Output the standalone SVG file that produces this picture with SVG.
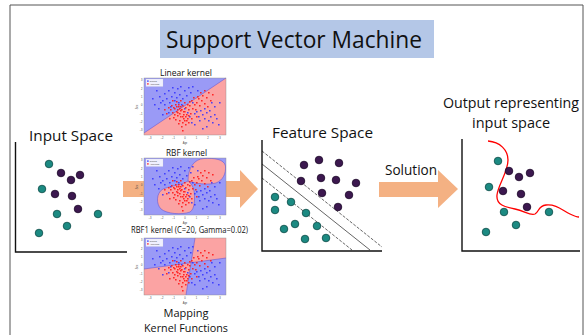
<svg xmlns="http://www.w3.org/2000/svg" xmlns:xlink="http://www.w3.org/1999/xlink" width="587" height="335" viewBox="0 0 587 335">
  <style>
    .lbl { font-family: "Open Sans", "Liberation Sans", sans-serif; fill: #111; }
    .big { font-size: 15px; }
    .small { font-size: 8.5px; }
    .axis { stroke: #111; stroke-width: 1.4; fill: none; }
    .sep { stroke: #222; stroke-width: 0.7; fill: none; }
    .dash { stroke-dasharray: 3 1.5; }
    .teal { fill: #1c8a82; stroke: #0c4a46; stroke-width: 0.8; }
    .purple { fill: #3c184f; stroke: #1c0828; stroke-width: 0.8; }
    .arrow { fill: #f4b183; }
    .rb { fill: #9a9af6; }
    .rr { fill: #fba3a3; }
    .bnd { stroke: #5a4ad0; stroke-width: 0.5; fill: none; }
    .frame { fill: none; stroke: #888; stroke-width: 0.4; }
    .tick { font-family: "Liberation Sans", sans-serif; font-size: 2.6px; fill: #444; }
  </style>
  <defs>
    <!-- shared sample data for the three kernel plots (local 82x57 coordinates) -->
    <path id="pts-blue" fill="#3030ff" fill-opacity="0.85" d="M12,12h1.6v1.6h-1.6z M15,18h1.6v1.6h-1.6z M18,22h1.6v1.6h-1.6z M20,15h1.6v1.6h-1.6z M22,20h1.6v1.6h-1.6z M24,12h1.6v1.6h-1.6z M25,24h1.6v1.6h-1.6z M27,18h1.6v1.6h-1.6z M28,9h1.6v1.6h-1.6z M30,14h1.6v1.6h-1.6z M32,19h1.6v1.6h-1.6z M33,10h1.6v1.6h-1.6z M35,16h1.6v1.6h-1.6z M36,8h1.6v1.6h-1.6z M38,20h1.6v1.6h-1.6z M40,12h1.6v1.6h-1.6z M42,17h1.6v1.6h-1.6z M44,9h1.6v1.6h-1.6z M30,22h1.6v1.6h-1.6z M26,28h1.6v1.6h-1.6z M20,26h1.6v1.6h-1.6z M16,24h1.6v1.6h-1.6z M8,20h1.6v1.6h-1.6z M14,30h1.6v1.6h-1.6z M46,14h1.6v1.6h-1.6z M48,24h1.6v1.6h-1.6z M50,35h1.6v1.6h-1.6z M52,33h1.6v1.6h-1.6z M54,38h1.6v1.6h-1.6z M56,32h1.6v1.6h-1.6z M58,36h1.6v1.6h-1.6z M60,40h1.6v1.6h-1.6z M62,34h1.6v1.6h-1.6z M64,42h1.6v1.6h-1.6z M66,38h1.6v1.6h-1.6z M68,44h1.6v1.6h-1.6z M70,36h1.6v1.6h-1.6z M72,40h1.6v1.6h-1.6z M74,46h1.6v1.6h-1.6z M70,28h1.6v1.6h-1.6z M65,32h1.6v1.6h-1.6z M60,30h1.6v1.6h-1.6z M55,42h1.6v1.6h-1.6z M58,50h1.6v1.6h-1.6z M47,44h1.6v1.6h-1.6z M50,46h1.6v1.6h-1.6z M62,48h1.6v1.6h-1.6z M45,38h1.6v1.6h-1.6z M40,30h1.6v1.6h-1.6z M43,34h1.6v1.6h-1.6z M24,34h1.6v1.6h-1.6z M18,36h1.6v1.6h-1.6z M34,24h1.6v1.6h-1.6z M37,26h1.6v1.6h-1.6z M48,8h1.6v1.6h-1.6z M53,12h1.6v1.6h-1.6z M10,26h1.6v1.6h-1.6z M75,24h1.6v1.6h-1.6z M67,24h1.6v1.6h-1.6z"/>
    <path id="pts-red" fill="#ff1a1a" fill-opacity="0.9" d="M30,30h1.6v1.6h-1.6z M32,33h1.6v1.6h-1.6z M34,28h1.6v1.6h-1.6z M35,35h1.6v1.6h-1.6z M37,31h1.6v1.6h-1.6z M38,27h1.6v1.6h-1.6z M36,38h1.6v1.6h-1.6z M40,33h1.6v1.6h-1.6z M41,29h1.6v1.6h-1.6z M42,36h1.6v1.6h-1.6z M39,40h1.6v1.6h-1.6z M33,37h1.6v1.6h-1.6z M31,26h1.6v1.6h-1.6z M44,31h1.6v1.6h-1.6z M45,27h1.6v1.6h-1.6z M43,40h1.6v1.6h-1.6z M38,44h1.6v1.6h-1.6z M35,42h1.6v1.6h-1.6z M28,34h1.6v1.6h-1.6z M26,31h1.6v1.6h-1.6z M29,39h1.6v1.6h-1.6z M41,46h1.6v1.6h-1.6z M37,48h1.6v1.6h-1.6z M34,45h1.6v1.6h-1.6z M46,35h1.6v1.6h-1.6z M48,30h1.6v1.6h-1.6z M50,26h1.6v1.6h-1.6z M47,22h1.6v1.6h-1.6z M52,24h1.6v1.6h-1.6z M54,20h1.6v1.6h-1.6z M55,27h1.6v1.6h-1.6z M57,22h1.6v1.6h-1.6z M58,17h1.6v1.6h-1.6z M60,25h1.6v1.6h-1.6z M62,19h1.6v1.6h-1.6z M64,14h1.6v1.6h-1.6z M66,22h1.6v1.6h-1.6z M56,14h1.6v1.6h-1.6z M53,18h1.6v1.6h-1.6z M49,19h1.6v1.6h-1.6z M45,23h1.6v1.6h-1.6z M51,31h1.6v1.6h-1.6z M40,24h1.6v1.6h-1.6z M36,22h1.6v1.6h-1.6z M32,23h1.6v1.6h-1.6z M27,27h1.6v1.6h-1.6z M24,29h1.6v1.6h-1.6z M22,35h1.6v1.6h-1.6z M20,31h1.6v1.6h-1.6z M39,36h1.6v1.6h-1.6z M42,42h1.6v1.6h-1.6z M36,32h1.6v1.6h-1.6z M33,31h1.6v1.6h-1.6z M30,36h1.6v1.6h-1.6z M44,44h1.6v1.6h-1.6z M47,40h1.6v1.6h-1.6z M60,12h1.6v1.6h-1.6z M63,28h1.6v1.6h-1.6z M68,16h1.6v1.6h-1.6z M52,38h1.6v1.6h-1.6z M25,40h1.6v1.6h-1.6z M38,52h1.6v1.6h-1.6z M41,38h1.6v1.6h-1.6z M34,26h1.6v1.6h-1.6z M43,26h1.6v1.6h-1.6z M28,22h1.6v1.6h-1.6z M31,41h1.6v1.6h-1.6z M36,28h1.6v1.6h-1.6z M39,33h1.6v1.6h-1.6z M33,34h1.6v1.6h-1.6z M38,38h1.6v1.6h-1.6z M29,29h1.6v1.6h-1.6z M35,30h1.6v1.6h-1.6z M40,42h1.6v1.6h-1.6z M32,28h1.6v1.6h-1.6z M44,37h1.6v1.6h-1.6z"/>
    <g id="legend">
      <rect x="2" y="1" width="17" height="7.5" fill="#fff" fill-opacity="0.85" stroke="#ccc" stroke-width="0.2"/>
      <rect x="3.2" y="2.4" width="1.4" height="1.4" fill="#3030ff"/>
      <rect x="3.2" y="5.2" width="1.4" height="1.4" fill="#ff1a1a"/>
      <text x="5.8" y="3.8" class="tick" style="font-size:2.2px">Normal</text>
      <text x="5.8" y="6.6" class="tick" style="font-size:2.2px">Abnormal</text>
    </g>
    <g id="ticks">
      <rect width="82" height="57" class="frame"/>
      <g class="tick" text-anchor="middle">
        <text x="6" y="61">−3</text><text x="18" y="61">−2</text><text x="29.5" y="61">−1</text><text x="41" y="61">0</text><text x="52.5" y="61">1</text><text x="64" y="61">2</text><text x="76" y="61">3</text>
        <text x="41" y="65.5">Age</text>
      </g>
      <g class="tick" text-anchor="end">
        <text x="-1.5" y="3">3</text><text x="-1.5" y="11.5">2</text><text x="-1.5" y="20">1</text><text x="-1.5" y="28">0</text><text x="-1.5" y="36.5">−1</text><text x="-1.5" y="45">−2</text><text x="-1.5" y="53">−3</text>
      </g>
      <text class="tick" transform="translate(-6,29) rotate(-90)" text-anchor="middle">Sex</text>
    </g>
  </defs>

  <rect width="587" height="335" fill="#fff"/>
  <!-- slide frame -->
  <path d="M10,335 V5 H583 V335" fill="none" stroke="#555" stroke-width="1"/>

  <g id="title">
    <rect x="160" y="20" width="274" height="38" fill="#b4c7e7"/>
    <text x="166" y="48" class="lbl" font-size="24" textLength="256" lengthAdjust="spacingAndGlyphs">Support Vector Machine</text>
  </g>

  <g id="connectors">
    <polygon class="arrow" points="123,181 240,181 240,170 258,189 240,208 240,197 123,197"/>
    <polygon class="arrow" points="379,182 438,182 438,170 458,189 438,208 438,197 379,197"/>
    <text x="385" y="175" class="lbl big" textLength="52" lengthAdjust="spacingAndGlyphs">Solution</text>
  </g>

  <g id="input-space">
    <text x="29" y="141" class="lbl big" textLength="84" lengthAdjust="spacingAndGlyphs">Input Space</text>
    <path class="axis" d="M15.5,142 V252 H127"/>
    <circle class="teal" cx="49" cy="164" r="3.8"/>
    <circle class="teal" cx="42" cy="189" r="3.8"/>
    <circle class="teal" cx="57" cy="214" r="3.8"/>
    <circle class="teal" cx="98" cy="214" r="3.8"/>
    <circle class="teal" cx="67" cy="226" r="3.8"/>
    <circle class="teal" cx="39" cy="233" r="3.8"/>
    <circle class="purple" cx="61" cy="173" r="3.8"/>
    <circle class="purple" cx="71" cy="180" r="3.8"/>
    <circle class="purple" cx="80" cy="175" r="3.8"/>
    <circle class="purple" cx="55" cy="194" r="3.8"/>
    <circle class="purple" cx="72" cy="196" r="3.8"/>
    <circle class="purple" cx="78" cy="209" r="3.8"/>
  </g>

  <g id="kernel-functions">
    <text x="186" y="76" class="lbl small" text-anchor="middle" textLength="52" lengthAdjust="spacingAndGlyphs">Linear kernel</text>
    <g id="plot-linear" transform="translate(144,78)">
      <rect width="82" height="57" class="rr"/>
      <polygon class="rb" points="0,0 82,0 0,55"/>
      <line class="bnd" x1="0" y1="55" x2="82" y2="0"/>
      <use xlink:href="#pts-blue"/>
      <use xlink:href="#pts-red"/>
      <use xlink:href="#legend"/>
      <use xlink:href="#ticks"/>
    </g>

    <text x="186.5" y="156" class="lbl small" text-anchor="middle" textLength="41" lengthAdjust="spacingAndGlyphs">RBF kernel</text>
    <g id="plot-rbf" transform="translate(144,158)">
      <rect width="82" height="57" class="rb"/>
      <path class="rr" stroke="#5a4ad0" stroke-width="0.5" d="M44,23 C44,10 50,1 60,0.5 C70,0 80,1 81.5,8 C82,16 79,22 72,25 C64,27 52,26 44,23 Z"/>
      <path class="rr" stroke="#5a4ad0" stroke-width="0.5" d="M44,23 C38,27 26,28 19,31 C12,35 12,46 17,51 C23,56 38,57 46,54 C51,51 51,40 50,33 C49,28 47,25 44,23 Z"/>
      <use xlink:href="#pts-blue"/>
      <use xlink:href="#pts-red"/>
      <use xlink:href="#legend"/>
      <use xlink:href="#ticks"/>
    </g>

    <text x="189.5" y="233" class="lbl small" text-anchor="middle" textLength="117" lengthAdjust="spacingAndGlyphs">RBF1 kernel (C=20, Gamma=0.02)</text>
    <g id="plot-rbf1" transform="translate(144,238)">
      <rect width="82" height="57" class="rb"/>
      <polygon class="rr" points="51,0 82,0 82,20 47.1,24.7"/>
      <polygon class="rr" points="0,31 47.1,24.7 42,57 0,57"/>
      <line class="bnd" x1="0" y1="31" x2="82" y2="20"/>
      <line class="bnd" x1="51" y1="0" x2="42" y2="57"/>
      <use xlink:href="#pts-blue"/>
      <use xlink:href="#pts-red"/>
      <use xlink:href="#legend"/>
      <use xlink:href="#ticks"/>
    </g>

    <text x="186" y="317" class="lbl" font-size="11" text-anchor="middle" textLength="45" lengthAdjust="spacingAndGlyphs">Mapping</text>
    <text x="186" y="331.5" class="lbl" font-size="10.5" text-anchor="middle" textLength="84" lengthAdjust="spacingAndGlyphs">Kernel Functions</text>
  </g>

  <g id="feature-space">
    <text x="272" y="138" class="lbl big" textLength="101" lengthAdjust="spacingAndGlyphs">Feature Space</text>
    <line class="sep dash" x1="262" y1="151" x2="382" y2="247"/>
    <line class="sep" x1="262" y1="164" x2="370" y2="250" stroke-width="0.9"/>
    <line class="sep dash" x1="262" y1="178" x2="352" y2="250"/>
    <path class="axis" d="M262,140 V251 H382"/>
    <circle class="purple" cx="304" cy="165" r="3.8"/>
    <circle class="purple" cx="319" cy="160" r="3.8"/>
    <circle class="purple" cx="339" cy="163" r="3.8"/>
    <circle class="purple" cx="301" cy="181" r="3.8"/>
    <circle class="purple" cx="321" cy="178" r="3.8"/>
    <circle class="purple" cx="336" cy="180" r="3.8"/>
    <circle class="purple" cx="356" cy="183" r="3.8"/>
    <circle class="purple" cx="322" cy="193" r="3.8"/>
    <circle class="purple" cx="349" cy="195" r="3.8"/>
    <circle class="purple" cx="338" cy="207" r="3.8"/>
    <circle class="teal" cx="275" cy="197" r="3.8"/>
    <circle class="teal" cx="291" cy="202" r="3.8"/>
    <circle class="teal" cx="275" cy="210" r="3.8"/>
    <circle class="teal" cx="306" cy="213" r="3.8"/>
    <circle class="teal" cx="295" cy="224" r="3.8"/>
    <circle class="teal" cx="317" cy="226" r="3.8"/>
    <circle class="teal" cx="284" cy="229" r="3.8"/>
    <circle class="teal" cx="305" cy="239" r="3.8"/>
    <circle class="teal" cx="326" cy="238" r="3.8"/>
  </g>

  <g id="output-space">
    <text x="443" y="108" class="lbl big" textLength="136" lengthAdjust="spacingAndGlyphs">Output representing</text>
    <text x="472" y="128" class="lbl big" textLength="78" lengthAdjust="spacingAndGlyphs">input space</text>
    <path class="axis" d="M462,139 V251 H580"/>
    <path d="M488,141 C500,142 508,150 508,160 C508,172 498,185 497,195 C496,205 505,207 515,209 C525,211 530,216 535,214 C539,212 538,206 546,205 C556,204 562,210 570,214 C574,216 577,217 579,217" fill="none" stroke="#ff0000" stroke-width="1.3"/>
    <circle class="teal" cx="498" cy="161" r="3.8"/>
    <circle class="teal" cx="489" cy="187" r="3.8"/>
    <circle class="teal" cx="504" cy="212" r="3.8"/>
    <circle class="teal" cx="549" cy="212" r="3.8"/>
    <circle class="teal" cx="516" cy="225" r="3.8"/>
    <circle class="teal" cx="486" cy="232" r="3.8"/>
    <circle class="purple" cx="509" cy="171" r="3.8"/>
    <circle class="purple" cx="519" cy="177" r="3.8"/>
    <circle class="purple" cx="530" cy="173" r="3.8"/>
    <circle class="purple" cx="503" cy="191" r="3.8"/>
    <circle class="purple" cx="521" cy="194" r="3.8"/>
    <circle class="purple" cx="527" cy="207" r="3.8"/>
  </g>
</svg>
